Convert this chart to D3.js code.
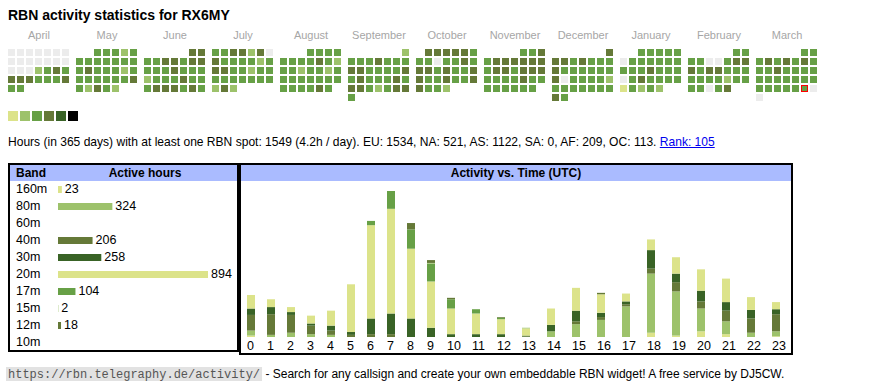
<!DOCTYPE html>
<html><head><meta charset="utf-8">
<script src="https://cdn.jsdelivr.net/npm/d3@7/dist/d3.min.js"></script>
<style>
html,body{margin:0;padding:0;background:#fff;}
svg{display:block;font-family:"Liberation Sans",Arial,Helvetica,sans-serif;}
text{white-space:pre;}
</style></head><body>
<svg id="c" width="870" height="390"></svg>
<script>
// ---------- DATA ----------
const titleText = "RBN activity statistics for RX6MY";
const monthNames = ["April","May","June","July","August","September","October","November","December","January","February","March"];
// daily activity level (0 none, 1..6 legend levels), one array per month, in day order
const lvApr = [0,0,0,0,0,0,0, 0,0,0,0,0,0,0, 0,0,0,2,3,4,3, 4,4,4,3,3,3,4, 3,3];
const lvMay = [3,3,3,2,3, 3,3,3,3,3,3,3, 3,4,3,3,3,2,3, 3,3,3,3,3,3,4, 3,2,4,3,2];
const lvJun = [4,4, 3,3,4,4,3,4,4, 3,3,3,4,3,3,3, 2,3,3,3,4,3,3, 3,4,4,4,3,4,3];
const lvJul = [3,3,4,4,2,4,0, 4,3,3,3,3,2,3, 4,4,3,3,2,3,3, 3,3,3,3,3,3,3, 2,4,2];
const lvAug = [3,3,3,3, 3,3,3,3,4,3,2, 3,3,2,3,3,2,3, 3,3,3,3,3,3,3, 3,3,3,3,4,3];
const lvSep = [2, 3,3,3,4,3,3,3, 4,4,3,3,3,3,4, 3,4,3,3,3,4,3, 4,4,3,2,3,4,4, 3];
const lvOct = [4,4,4,4,4,3, 3,3,0,3,3,4,3, 4,4,3,4,3,3,4, 4,3,3,4,3,3,4, 4,3,3,2];
const lvNov = [3,3,4, 3,4,4,4,4,4,4, 3,4,4,3,4,4,4, 3,3,3,3,4,3,3, 3,3,3,3,3,3];
const lvDec = [4, 4,4,3,4,3,3,3, 4,3,3,3,3,3,3, 4,0,3,3,3,3,2, 3,3,3,3,3,3,3, 4,3];
const lvJan = [3,3,3,3,3, 0,3,3,3,3,3,3, 3,3,3,4,3,3,3, 0,3,4,3,3,3,3, 1,3,2,3,2];
const lvFeb = [3,3, 3,3,0,0,3,4,4, 4,3,4,4,3,3,3, 3,3,3,3,2,3,3, 3,3,0,3,4];
const lvMar = [3,3, 3,4,3,4,3,4,3, 3,3,4,3,3,3,3, 3,3,3,3,3,3,3, 3,3,3,3,3,3,0, 0];
const firstMonth = "2024-04-01";
const todayStr = "2025-03-29";
const legendLevels = [1,2,3,4,5,6];

const bands = ["160m","80m","60m","40m","30m","20m","17m","15m","12m","10m"];
const bandTotals = [23,324,0,206,258,894,104,2,18,0];

const hourLabels = ["0","1","2","3","4","5","6","7","8","9","10","11","12","13","14","15","16","17","18","19","20","21","22","23"];
const h160 = [2,0,0,0,0,0,0,0,0,0,0,0,0,0,0,0,0,0,6,2,8,4,0,1];
const h80  = [7,3,6,4,3,0,0,0,0,0,0,0,0,0,8,18,24,43,83,62,32,18,6,7];
const h60  = [0,0,0,0,0,0,0,0,0,0,0,0,0,0,0,0,0,0,0,0,0,0,0,0];
const h40  = [22,29,25,12,6,3,4,4,0,0,0,0,0,1,0,4,4,3,7,13,10,15,20,24];
const h30  = [9,10,4,3,7,4,22,29,26,13,4,4,4,1,9,15,6,4,26,12,15,12,12,7];
const h20  = [19,11,7,11,21,67,131,147,98,65,36,29,21,10,23,32,26,11,15,23,30,33,18,10];
const h17  = [0,0,0,0,0,0,6,25,27,25,13,6,2,0,0,0,0,0,0,0,0,0,0,0];
const h15  = [0,0,0,0,0,0,0,0,0,1,0,0,0,1,0,0,0,0,0,0,0,0,0,0];
const h12  = [0,0,0,0,0,0,0,0,9,4,2,0,1,0,0,0,2,0,0,0,0,0,0,0];
const h10  = [0,0,0,0,0,0,0,0,0,0,0,0,0,0,0,0,0,0,0,0,0,0,0,0];

const statsText = "Hours (in 365 days) with at least one RBN spot: 1549 (4.2h / day). EU: 1534, NA: 521, AS: 1122, SA: 0, AF: 209, OC: 113. ";
const rankText = "Rank: 105";
const footUrl = "https://rbn.telegraphy.de/activity/";
const footText = " - Search for any callsign and create your own embeddable RBN widget! A free service by DJ5CW.";

// ---------- STYLE ----------
const C = {yel:"#dce38a", lgr:"#9dc26b", grn:"#67a046", olv:"#657938", drk:"#396326", blk:"#000000", none:"#ececec"};
const levelColor = d3.scaleOrdinal().domain([0,1,2,3,4,5,6]).range([C.none,C.yel,C.lgr,C.grn,C.olv,C.drk,C.blk]);
const bandColor = d3.scaleOrdinal().domain(bands).range([C.yel,C.lgr,C.grn,C.olv,C.drk,C.yel,C.grn,C.lgr,C.olv,C.drk]);

const svg = d3.select("#c");

// title
svg.append("text").attr("x",8).attr("y",20).attr("font-size",14).attr("font-weight","bold").text(titleText);

// ---------- CALENDAR ----------
const levelsByMonth = [lvApr,lvMay,lvJun,lvJul,lvAug,lvSep,lvOct,lvNov,lvDec,lvJan,lvFeb,lvMar];
const parse = d3.timeParse("%Y-%m-%d");
const start = parse(firstMonth);
const months = d3.timeMonth.range(start, d3.timeMonth.offset(start,12));
const monthX = d3.scaleLinear().domain([0,1]).range([8,76]);
const colX = d3.scaleLinear().domain([0,1]).range([0,9]);
const rowY = d3.scaleLinear().domain([0,1]).range([49,58]);
const fmt = d3.timeFormat("%Y-%m-%d");
const cells = [];
months.forEach((m,i)=>{
  const days = d3.timeDay.range(m, d3.timeMonth.offset(m,1));
  const firstCol = (m.getDay()+6)%7;
  days.forEach((d,j)=>{
    cells.push({m:i, col:(d.getDay()+6)%7, row:Math.floor((firstCol+j)/7), lv:levelsByMonth[i][j], today: fmt(d)===todayStr});
  });
});
svg.append("g").selectAll("text").data(monthNames).join("text")
  .attr("x",(d,i)=>monthX(i)+31).attr("y",39).attr("text-anchor","middle")
  .attr("font-size",11).attr("fill","#a6a6a6").text(d=>d);
svg.append("g").selectAll("rect").data(cells).join("rect")
  .attr("x",d=>monthX(d.m)+colX(d.col)+(d.today?0.5:0))
  .attr("y",d=>rowY(d.row)+(d.today?0.5:0))
  .attr("width",d=>d.today?6:7).attr("height",d=>d.today?6:7)
  .attr("fill",d=>levelColor(d.lv))
  .attr("stroke",d=>d.today?"#ff0000":"none").attr("stroke-width",1);

// legend
const legX = d3.scaleLinear().domain([0,1]).range([8,20]);
svg.append("g").selectAll("rect").data(legendLevels).join("rect")
  .attr("x",(d,i)=>legX(i)).attr("y",111).attr("width",10).attr("height",10)
  .attr("fill",d=>levelColor(d));

// stats line
const st = svg.append("text").attr("x",8).attr("y",146).attr("font-size",12.05).text(statsText);
const stW = st.node().getComputedTextLength();
const rk = svg.append("text").attr("x",8+stW).attr("y",146).attr("font-size",12.05).attr("fill","#0000ee").text(rankText);
const rkW = rk.node().getComputedTextLength();
svg.append("line").attr("x1",8+stW).attr("x2",8+stW+rkW).attr("y1",147.5).attr("y2",147.5).attr("stroke","#0000ee").attr("stroke-width",1);

// ---------- BAND TABLE ----------
svg.append("rect").attr("x",10).attr("y",165).attr("width",227).attr("height",16).attr("fill","#aabbff");
svg.append("rect").attr("x",9).attr("y",164).attr("width",229).attr("height",187).attr("fill","none").attr("stroke","#000").attr("stroke-width",2);
svg.append("text").attr("x",16).attr("y",177).attr("font-size",12).attr("font-weight","bold").text("Band");
svg.append("text").attr("x",145).attr("y",177).attr("font-size",12).attr("font-weight","bold").attr("text-anchor","middle").text("Active hours");
const rowB = d3.scaleLinear().domain([0,1]).range([193,210]);
const bw = d3.scaleLinear().domain([0,d3.max(bandTotals)]).range([0,150]);
const bt = svg.append("g");
bands.forEach((b,i)=>{
  bt.append("text").attr("x",16).attr("y",rowB(i)).attr("font-size",12.5).text(b);
  const v = bandTotals[i];
  if (v>0){
    bt.append("rect").attr("x",58).attr("y",rowB(i)-7).attr("width",bw(v)).attr("height",7).attr("fill",bandColor(b));
    bt.append("text").attr("x",58+bw(v)+3).attr("y",rowB(i)).attr("font-size",12.5).text(v);
  }
});

// ---------- HOURLY CHART ----------
svg.append("rect").attr("x",241).attr("y",165).attr("width",550).attr("height",16).attr("fill","#aabbff");
svg.append("rect").attr("x",240).attr("y",164).attr("width",552).attr("height",190).attr("fill","none").attr("stroke","#000").attr("stroke-width",2);
svg.append("text").attr("x",516).attr("y",177).attr("font-size",12).attr("font-weight","bold").attr("text-anchor","middle").text("Activity vs. Time (UTC)");

const series = [h160,h80,h60,h40,h30,h20,h17,h15,h12,h10];
const table = hourLabels.map((h,i)=>{ const o={hour:h}; bands.forEach((b,k)=>o[b]=series[k][i]); return o; });
const stacked = d3.stack().keys(bands)(table);
const maxTot = d3.max(table, r=>d3.sum(bands, b=>r[b]));
const y = d3.scaleLinear().domain([0,maxTot]).range([337,191]);
// column lefts like an auto-width html table: wider cells for two-digit labels
let acc = 247; const lefts = hourLabels.map(h=>{ const l=acc; acc += h.length>1?25:20; return l; });
const x = d3.scaleOrdinal().domain(hourLabels).range(lefts);
svg.append("g").selectAll("g").data(stacked).join("g").attr("fill",d=>bandColor(d.key))
  .selectAll("rect").data(d=>d).join("rect")
  .attr("x",d=>x(d.data.hour)).attr("width",8)
  .attr("y",d=>y(d[1])).attr("height",d=>y(d[0])-y(d[1]));
svg.append("g").selectAll("text").data(hourLabels).join("text")
  .attr("x",d=>x(d)).attr("y",350).attr("font-size",12.5).text(d=>d);

// ---------- FOOTER ----------
const foot = svg.append("g");
const fbg = foot.append("rect");
const fu = foot.append("text").attr("x",8).attr("y",378).attr("font-size",12)
  .attr("font-family","'Liberation Mono','DejaVu Sans Mono',monospace").attr("fill","#555").text(footUrl);
const fuW = fu.node().getComputedTextLength();
fbg.attr("x",6).attr("y",367).attr("width",fuW+4).attr("height",14).attr("fill","#e2e2e2");
foot.append("text").attr("x",8+fuW+2).attr("y",378).attr("font-size",12)
  .attr("font-family","'Liberation Sans Narrow','Liberation Sans',Arial,sans-serif").text(footText);
</script>
</body></html>
